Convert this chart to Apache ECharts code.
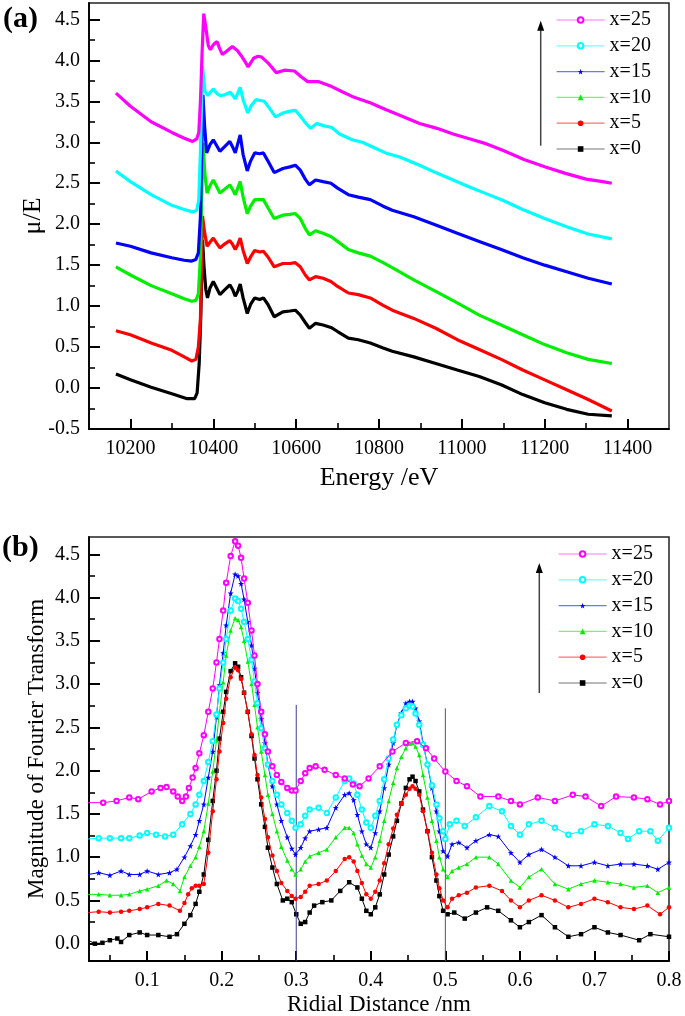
<!DOCTYPE html>
<html><head><meta charset="utf-8">
<script src="https://cdn.jsdelivr.net/npm/echarts@6/dist/echarts.min.js"></script>
<style>html,body{margin:0;padding:0;background:#fff}#c{width:685px;height:1016px}</style>
</head><body><div id="c"></div>
<script>
// ---------- names / ticks ----------
const seriesNames = ['x=0','x=5','x=10','x=15','x=20','x=25'];
const legendOrder = ['x=25','x=20','x=15','x=10','x=5','x=0'];
const seriesColors = ['#000000','#ff0000','#00ee00','#0000ff','#00ffff','#ff00ff'];
const starPath = 'path://M0,-10L2.35,-3.24L9.51,-3.09L3.8,1.24L5.88,8.09L0,4L-5.88,8.09L-3.8,1.24L-9.51,-3.09L-2.35,-3.24Z';
const seriesSymbols = ['rect','circle','triangle',starPath,'emptyCircle','emptyCircle'];

const xTicksA = [10200,10400,10600,10800,11000,11200,11400];
const xMinorA = [10300,10500,10700,10900,11100,11300];
const yTicksA = [-0.5,0,0.5,1,1.5,2,2.5,3,3.5,4,4.5];
const yMinorA = [-0.25,0.25,0.75,1.25,1.75,2.25,2.75,3.25,3.75,4.25];
const xTicksB = [0.1,0.2,0.3,0.4,0.5,0.6,0.7,0.8];
const xMinorB = [0.05,0.15,0.25,0.35,0.45,0.55,0.65,0.75];
const yTicksB = [0,0.5,1,1.5,2,2.5,3,3.5,4,4.5];
const yMinorB = [0.25,0.75,1.25,1.75,2.25,2.75,3.25,3.75,4.25];

// ---------- panel (a): Energy (eV), mu/E ----------
const a_x0 = [[10165,0.17],[10200,0.10],[10250,0.01],[10300,-0.07],[10337,-0.13],[10355,-0.13],[10361,-0.06],[10366,0.30],[10370,0.90],[10374,1.81],[10378,1.45],[10382,1.20],[10386,1.10],[10392,1.22],[10400,1.30],[10408,1.22],[10416,1.14],[10428,1.20],[10440,1.26],[10447,1.20],[10453,1.12],[10459,1.18],[10465,1.27],[10472,1.10],[10482,0.91],[10490,1.02],[10500,1.10],[10512,1.08],[10521,1.10],[10532,1.02],[10547,0.87],[10568,0.93],[10585,0.94],[10598,0.95],[10610,0.89],[10622,0.80],[10632,0.73],[10647,0.79],[10665,0.77],[10684,0.74],[10700,0.69],[10726,0.61],[10750,0.59],[10779,0.55],[10810,0.49],[10832,0.45],[10884,0.38],[10937,0.30],[10989,0.22],[11042,0.14],[11095,0.04],[11147,-0.08],[11200,-0.18],[11253,-0.26],[11305,-0.32],[11362,-0.34]];
const a_x5 = [[10165,0.70],[10200,0.65],[10250,0.55],[10300,0.46],[10330,0.38],[10348,0.33],[10358,0.35],[10364,0.50],[10369,0.85],[10374,2.10],[10379,1.90],[10385,1.73],[10392,1.78],[10400,1.83],[10408,1.77],[10416,1.71],[10428,1.76],[10440,1.80],[10447,1.75],[10453,1.69],[10459,1.75],[10465,1.83],[10472,1.68],[10482,1.52],[10490,1.60],[10500,1.68],[10512,1.66],[10521,1.67],[10532,1.60],[10547,1.48],[10568,1.52],[10585,1.52],[10598,1.53],[10610,1.48],[10622,1.38],[10632,1.32],[10647,1.36],[10665,1.34],[10684,1.30],[10700,1.24],[10726,1.16],[10750,1.14],[10779,1.10],[10810,1.01],[10832,0.95],[10884,0.85],[10937,0.73],[10989,0.59],[11042,0.47],[11095,0.35],[11147,0.22],[11200,0.10],[11253,-0.02],[11305,-0.14],[11362,-0.28]];
const a_x10 = [[10165,1.48],[10200,1.38],[10250,1.25],[10300,1.15],[10330,1.09],[10348,1.06],[10358,1.07],[10364,1.15],[10369,1.60],[10375,2.99],[10380,2.60],[10385,2.38],[10392,2.47],[10400,2.54],[10408,2.46],[10416,2.38],[10428,2.43],[10440,2.48],[10447,2.42],[10453,2.36],[10459,2.44],[10465,2.52],[10472,2.33],[10482,2.13],[10490,2.22],[10500,2.30],[10512,2.30],[10521,2.30],[10532,2.20],[10547,2.07],[10568,2.11],[10585,2.12],[10598,2.13],[10610,2.07],[10622,1.95],[10632,1.87],[10647,1.92],[10665,1.89],[10684,1.85],[10700,1.79],[10726,1.69],[10750,1.65],[10779,1.61],[10810,1.53],[10832,1.47],[10884,1.32],[10937,1.18],[10989,1.04],[11042,0.89],[11095,0.77],[11147,0.65],[11200,0.53],[11253,0.43],[11305,0.35],[11362,0.30]];
const a_x15 = [[10165,1.77],[10200,1.73],[10250,1.65],[10300,1.59],[10330,1.56],[10348,1.55],[10358,1.57],[10364,1.65],[10369,2.10],[10375,3.58],[10379,3.20],[10384,2.87],[10392,2.97],[10400,3.03],[10408,2.96],[10416,2.89],[10428,2.95],[10440,3.01],[10447,2.94],[10453,2.87],[10459,2.98],[10465,3.09],[10472,2.85],[10482,2.65],[10490,2.77],[10500,2.87],[10512,2.86],[10521,2.87],[10532,2.77],[10547,2.63],[10568,2.68],[10585,2.70],[10598,2.72],[10610,2.66],[10622,2.55],[10632,2.48],[10647,2.54],[10665,2.52],[10684,2.50],[10700,2.44],[10726,2.36],[10750,2.33],[10779,2.30],[10810,2.22],[10832,2.17],[10884,2.09],[10937,1.99],[10989,1.89],[11042,1.79],[11095,1.69],[11147,1.59],[11200,1.50],[11253,1.42],[11305,1.34],[11362,1.27]];
const a_x20 = [[10165,2.65],[10200,2.52],[10250,2.36],[10300,2.23],[10330,2.18],[10350,2.15],[10360,2.17],[10365,2.30],[10369,2.90],[10374,3.93],[10380,3.62],[10387,3.57],[10393,3.61],[10400,3.65],[10408,3.60],[10416,3.57],[10428,3.58],[10441,3.61],[10447,3.57],[10453,3.53],[10459,3.60],[10465,3.67],[10472,3.52],[10483,3.36],[10492,3.45],[10503,3.52],[10514,3.51],[10523,3.50],[10535,3.42],[10550,3.31],[10570,3.36],[10585,3.38],[10598,3.39],[10610,3.32],[10622,3.24],[10635,3.17],[10650,3.23],[10668,3.20],[10686,3.18],[10705,3.10],[10735,3.03],[10760,3.00],[10790,2.93],[10816,2.87],[10850,2.82],[10898,2.72],[10937,2.63],[10979,2.54],[11020,2.45],[11060,2.37],[11100,2.29],[11147,2.18],[11200,2.07],[11253,1.97],[11305,1.88],[11362,1.82]];
const a_x25 = [[10165,3.60],[10200,3.44],[10250,3.25],[10300,3.12],[10330,3.05],[10350,3.01],[10360,3.04],[10365,3.12],[10369,3.50],[10373,4.10],[10377,4.57],[10382,4.40],[10388,4.18],[10393,4.13],[10400,4.19],[10409,4.23],[10415,4.15],[10422,4.07],[10432,4.11],[10446,4.17],[10458,4.12],[10467,4.06],[10476,3.99],[10484,3.92],[10498,4.03],[10508,4.05],[10517,4.04],[10532,3.97],[10552,3.85],[10572,3.88],[10596,3.87],[10612,3.80],[10628,3.74],[10655,3.74],[10686,3.68],[10710,3.62],[10735,3.56],[10780,3.48],[10816,3.40],[10850,3.33],[10898,3.23],[10940,3.17],[10979,3.10],[11020,3.04],[11060,2.98],[11100,2.90],[11150,2.79],[11200,2.70],[11250,2.62],[11300,2.55],[11340,2.52],[11362,2.50]];

// ---------- panel (b): radial distance (nm), |FT| ----------
const b_x0 = [[0.021,0.04],[0.03,0.00],[0.04,0.01],[0.05,0.04],[0.06,0.06],[0.065,0.02],[0.076,0.10],[0.09,0.13],[0.1,0.10],[0.115,0.10],[0.13,0.08],[0.14,0.11],[0.15,0.23],[0.158,0.33],[0.165,0.46],[0.17,0.60],[0.176,0.80],[0.182,1.20],[0.188,1.65],[0.193,2.00],[0.197,2.37],[0.202,2.68],[0.206,2.91],[0.212,3.15],[0.218,3.24],[0.222,3.20],[0.226,3.08],[0.23,2.90],[0.235,2.68],[0.24,2.40],[0.244,2.14],[0.248,1.90],[0.253,1.61],[0.258,1.35],[0.262,1.11],[0.268,0.88],[0.274,0.69],[0.282,0.50],[0.288,0.52],[0.294,0.48],[0.3,0.34],[0.306,0.23],[0.312,0.25],[0.318,0.36],[0.324,0.44],[0.335,0.48],[0.347,0.50],[0.359,0.61],[0.371,0.71],[0.382,0.65],[0.388,0.52],[0.394,0.38],[0.4,0.34],[0.406,0.42],[0.412,0.57],[0.418,0.80],[0.424,1.03],[0.43,1.24],[0.435,1.42],[0.441,1.62],[0.447,1.80],[0.452,1.90],[0.456,1.93],[0.46,1.88],[0.465,1.76],[0.47,1.55],[0.476,1.30],[0.482,1.00],[0.488,0.73],[0.492,0.55],[0.497,0.38],[0.503,0.34],[0.512,0.36],[0.526,0.29],[0.541,0.36],[0.556,0.42],[0.571,0.38],[0.588,0.27],[0.6,0.19],[0.612,0.25],[0.629,0.33],[0.647,0.19],[0.665,0.08],[0.682,0.11],[0.7,0.19],[0.718,0.13],[0.735,0.10],[0.76,0.04],[0.775,0.11],[0.8,0.08]];
const b_x5 = [[0.021,0.36],[0.035,0.37],[0.05,0.36],[0.065,0.37],[0.076,0.38],[0.09,0.40],[0.1,0.42],[0.115,0.46],[0.13,0.44],[0.144,0.38],[0.15,0.47],[0.155,0.57],[0.16,0.64],[0.165,0.67],[0.17,0.67],[0.176,0.69],[0.182,1.05],[0.188,1.53],[0.193,1.90],[0.197,2.22],[0.202,2.55],[0.206,2.83],[0.212,3.08],[0.218,3.19],[0.222,3.16],[0.226,3.06],[0.23,2.90],[0.235,2.68],[0.24,2.42],[0.244,2.18],[0.248,1.95],[0.253,1.69],[0.258,1.44],[0.262,1.23],[0.268,1.02],[0.274,0.84],[0.28,0.70],[0.288,0.61],[0.294,0.55],[0.299,0.52],[0.306,0.54],[0.312,0.60],[0.318,0.67],[0.33,0.69],[0.341,0.73],[0.353,0.84],[0.365,0.98],[0.371,1.00],[0.377,0.95],[0.382,0.84],[0.388,0.70],[0.394,0.57],[0.4,0.52],[0.406,0.60],[0.412,0.73],[0.418,0.93],[0.424,1.15],[0.43,1.33],[0.435,1.49],[0.441,1.62],[0.447,1.72],[0.452,1.79],[0.456,1.82],[0.46,1.79],[0.465,1.72],[0.47,1.53],[0.476,1.30],[0.482,1.05],[0.488,0.80],[0.492,0.64],[0.497,0.50],[0.503,0.42],[0.509,0.52],[0.518,0.56],[0.529,0.59],[0.541,0.65],[0.559,0.67],[0.576,0.61],[0.588,0.50],[0.6,0.42],[0.612,0.50],[0.629,0.56],[0.647,0.50],[0.665,0.42],[0.682,0.46],[0.7,0.52],[0.718,0.48],[0.735,0.42],[0.753,0.40],[0.771,0.44],[0.788,0.34],[0.8,0.42]];
const b_x10 = [[0.021,0.57],[0.035,0.57],[0.05,0.56],[0.065,0.56],[0.076,0.57],[0.09,0.61],[0.1,0.63],[0.115,0.67],[0.126,0.73],[0.135,0.69],[0.144,0.61],[0.15,0.77],[0.158,0.90],[0.165,1.00],[0.17,1.12],[0.176,1.30],[0.182,1.62],[0.188,1.99],[0.193,2.35],[0.197,2.68],[0.202,3.02],[0.206,3.33],[0.212,3.62],[0.218,3.76],[0.222,3.74],[0.226,3.66],[0.23,3.50],[0.235,3.26],[0.24,3.00],[0.244,2.76],[0.248,2.50],[0.253,2.22],[0.258,1.95],[0.262,1.72],[0.268,1.50],[0.274,1.30],[0.28,1.12],[0.288,0.96],[0.294,0.86],[0.299,0.80],[0.306,0.86],[0.312,0.95],[0.318,1.01],[0.33,1.05],[0.341,1.09],[0.353,1.23],[0.365,1.34],[0.371,1.34],[0.377,1.28],[0.382,1.15],[0.388,1.02],[0.394,0.92],[0.4,0.88],[0.406,1.00],[0.412,1.19],[0.418,1.42],[0.424,1.65],[0.43,1.86],[0.435,2.03],[0.441,2.16],[0.447,2.26],[0.452,2.31],[0.456,2.32],[0.46,2.28],[0.465,2.18],[0.47,1.95],[0.476,1.69],[0.482,1.42],[0.488,1.19],[0.492,1.00],[0.497,0.86],[0.503,0.77],[0.509,0.84],[0.518,0.88],[0.529,0.92],[0.541,1.00],[0.559,1.00],[0.571,0.92],[0.588,0.73],[0.6,0.65],[0.612,0.77],[0.629,0.86],[0.647,0.69],[0.665,0.63],[0.682,0.69],[0.7,0.73],[0.718,0.71],[0.735,0.69],[0.753,0.65],[0.771,0.67],[0.785,0.59],[0.8,0.65]];
const b_x15 = [[0.021,0.80],[0.035,0.82],[0.05,0.79],[0.065,0.84],[0.076,0.80],[0.09,0.80],[0.1,0.84],[0.115,0.80],[0.13,0.82],[0.14,0.86],[0.15,1.00],[0.158,1.13],[0.165,1.26],[0.17,1.42],[0.176,1.61],[0.182,1.92],[0.188,2.22],[0.193,2.62],[0.197,2.99],[0.202,3.36],[0.206,3.68],[0.212,4.05],[0.218,4.27],[0.222,4.25],[0.226,4.16],[0.23,3.98],[0.235,3.72],[0.24,3.45],[0.244,3.18],[0.248,2.90],[0.253,2.60],[0.258,2.32],[0.262,2.07],[0.268,1.82],[0.274,1.61],[0.28,1.42],[0.288,1.23],[0.294,1.10],[0.299,1.03],[0.306,1.11],[0.312,1.22],[0.318,1.30],[0.33,1.32],[0.341,1.34],[0.353,1.57],[0.365,1.72],[0.371,1.74],[0.377,1.66],[0.382,1.49],[0.388,1.30],[0.394,1.15],[0.4,1.11],[0.406,1.28],[0.412,1.53],[0.418,1.80],[0.424,2.07],[0.43,2.32],[0.435,2.53],[0.441,2.67],[0.447,2.78],[0.452,2.80],[0.456,2.80],[0.46,2.72],[0.465,2.57],[0.47,2.32],[0.476,2.07],[0.482,1.80],[0.488,1.53],[0.492,1.30],[0.497,1.07],[0.503,1.01],[0.509,1.15],[0.518,1.17],[0.529,1.11],[0.541,1.19],[0.559,1.26],[0.571,1.24],[0.588,1.05],[0.6,0.94],[0.612,1.03],[0.629,1.09],[0.647,1.00],[0.665,0.90],[0.682,0.90],[0.7,0.94],[0.718,0.90],[0.735,0.92],[0.753,0.92],[0.771,0.90],[0.785,0.86],[0.8,0.94]];
const b_x20 = [[0.021,1.21],[0.035,1.22],[0.05,1.22],[0.065,1.22],[0.076,1.22],[0.09,1.25],[0.1,1.28],[0.112,1.26],[0.124,1.24],[0.135,1.26],[0.147,1.38],[0.158,1.50],[0.165,1.61],[0.17,1.72],[0.176,1.88],[0.182,2.10],[0.188,2.34],[0.193,2.65],[0.197,2.95],[0.202,3.25],[0.206,3.52],[0.212,3.85],[0.218,3.99],[0.222,3.96],[0.226,3.87],[0.23,3.72],[0.235,3.52],[0.24,3.28],[0.244,3.03],[0.248,2.78],[0.253,2.49],[0.258,2.26],[0.262,2.07],[0.268,1.88],[0.274,1.72],[0.28,1.61],[0.288,1.51],[0.294,1.42],[0.299,1.34],[0.306,1.38],[0.312,1.48],[0.318,1.55],[0.33,1.57],[0.341,1.51],[0.353,1.69],[0.365,1.88],[0.371,1.91],[0.377,1.85],[0.382,1.72],[0.388,1.55],[0.394,1.40],[0.4,1.34],[0.406,1.48],[0.412,1.65],[0.418,1.90],[0.424,2.14],[0.43,2.36],[0.435,2.53],[0.441,2.64],[0.447,2.72],[0.452,2.75],[0.456,2.74],[0.46,2.66],[0.465,2.53],[0.47,2.30],[0.476,2.07],[0.482,1.83],[0.488,1.61],[0.492,1.45],[0.497,1.30],[0.5,1.21],[0.506,1.38],[0.515,1.42],[0.526,1.36],[0.541,1.46],[0.559,1.59],[0.576,1.53],[0.588,1.36],[0.6,1.26],[0.612,1.38],[0.629,1.42],[0.647,1.34],[0.665,1.26],[0.682,1.30],[0.7,1.38],[0.718,1.36],[0.735,1.28],[0.745,1.21],[0.76,1.30],[0.775,1.30],[0.785,1.19],[0.8,1.34]];
const b_x25 = [[0.021,1.63],[0.041,1.63],[0.059,1.65],[0.076,1.69],[0.088,1.67],[0.106,1.76],[0.118,1.80],[0.126,1.81],[0.135,1.76],[0.141,1.70],[0.147,1.65],[0.152,1.70],[0.156,1.80],[0.161,1.92],[0.165,2.03],[0.17,2.20],[0.176,2.41],[0.182,2.68],[0.188,2.95],[0.193,3.25],[0.197,3.52],[0.202,3.85],[0.206,4.17],[0.212,4.48],[0.218,4.65],[0.222,4.60],[0.226,4.46],[0.23,4.22],[0.235,3.94],[0.24,3.62],[0.244,3.33],[0.248,3.00],[0.253,2.68],[0.258,2.42],[0.262,2.22],[0.268,2.05],[0.274,1.95],[0.28,1.87],[0.288,1.80],[0.294,1.77],[0.299,1.77],[0.306,1.88],[0.312,1.97],[0.318,2.03],[0.326,2.05],[0.338,2.01],[0.353,1.95],[0.365,1.91],[0.376,1.84],[0.385,1.82],[0.397,1.91],[0.412,2.05],[0.429,2.22],[0.447,2.32],[0.462,2.34],[0.474,2.26],[0.485,2.14],[0.5,1.99],[0.515,1.88],[0.529,1.82],[0.547,1.70],[0.571,1.70],[0.588,1.65],[0.6,1.61],[0.624,1.69],[0.647,1.65],[0.671,1.72],[0.688,1.70],[0.709,1.59],[0.729,1.70],[0.753,1.69],[0.771,1.67],[0.788,1.61],[0.8,1.65]];
// reference lines
const vline03 = [[0.3,-0.2],[0.3,2.76]];
const vline05 = [[0.5,-0.2],[0.5,2.72]];

const aData = [a_x0,a_x5,a_x10,a_x15,a_x20,a_x25];
const bData = [b_x0,b_x5,b_x10,b_x15,b_x20,b_x25];

const FONT = 'Liberation Serif';
const fmt1 = v => (Math.round(v*10)/10).toFixed(1);
const AX = {a:{xMin:10100, xMax:11500, yMin:-0.5, yMax:4.7}, b:{xMin:0.022, xMax:0.8, yMin:-0.2, yMax:4.7}};

function mainX(gi, r, ticks, fmt){
  const ax = {gridIndex:gi, type:'value', min:r.xMin, max:r.xMax, position:'bottom',
    axisLine:{onZero:false, lineStyle:{color:'#000', width:1.8}},
    axisTick:{show:true, inside:true, length:10, customValues:ticks, lineStyle:{color:'#000', width:2}},
    axisLabel:{customValues:ticks, fontFamily:FONT, fontSize:20, color:'#000', margin:10},
    splitLine:{show:false}};
  if (fmt) ax.axisLabel.formatter = fmt;
  return ax;
}
function minorX(gi, r, ticks){
  return {gridIndex:gi, type:'value', min:r.xMin, max:r.xMax, position:'bottom',
    axisLine:{show:false, onZero:false}, axisLabel:{show:false}, splitLine:{show:false},
    axisTick:{show:true, inside:true, length:6, customValues:ticks, lineStyle:{color:'#000', width:1.6}}};
}
function mainY(gi, r, ticks){
  return {gridIndex:gi, type:'value', min:r.yMin, max:r.yMax, position:'left',
    axisLine:{show:true, onZero:false, lineStyle:{color:'#000', width:1.8}},
    axisTick:{show:true, inside:true, length:11, customValues:ticks, lineStyle:{color:'#000', width:2}},
    axisLabel:{customValues:ticks, formatter:fmt1, fontFamily:FONT, fontSize:20, color:'#000', margin:9},
    splitLine:{show:false}};
}
function minorY(gi, r, ticks){
  return {gridIndex:gi, type:'value', min:r.yMin, max:r.yMax, position:'left',
    axisLine:{show:false, onZero:false}, axisLabel:{show:false}, splitLine:{show:false},
    axisTick:{show:true, inside:true, length:6, customValues:ticks, lineStyle:{color:'#000', width:1.6}}};
}

const series = [];
seriesNames.forEach((n,i)=>{
  series.push({name:n, type:'line', xAxisIndex:0, yAxisIndex:0, data:aData[i],
    showSymbol:false, symbol:seriesSymbols[i], color:seriesColors[i],
    lineStyle:{width:3.2, color:seriesColors[i]}, z:2+i});
});
seriesNames.forEach((n,i)=>{
  series.push({name:n, type:'line', xAxisIndex:2, yAxisIndex:2, data:bData[i],
    symbol:seriesSymbols[i], symbolSize: i===3?6:4.5, color:seriesColors[i],
    itemStyle:{color:seriesColors[i]},
    lineStyle:{width:1, color:seriesColors[i]}, z:2+i});
});
series.push({type:'line', xAxisIndex:2, yAxisIndex:2, data:vline03, symbol:'none',
  lineStyle:{width:1, color:'#3b3b8f'}, silent:true});
series.push({type:'line', xAxisIndex:2, yAxisIndex:2, data:vline05, symbol:'none',
  lineStyle:{width:1, color:'#555555'}, silent:true});

function legendAt(left, top){
  return {orient:'vertical', left:left, top:top, data:legendOrder,
    itemWidth:48, itemHeight:7, itemGap:5.8, selectedMode:false,
    textStyle:{fontFamily:FONT, fontSize:20, color:'#000', lineHeight:20},
    lineStyle:{width:1.2, opacity:0.55}};
}
function arrow(x, yTop, yBot){
  return [
    {type:'line', shape:{x1:x, y1:yBot, x2:x, y2:yTop+8}, style:{stroke:'#444', lineWidth:1.5}, z:50},
    {type:'polygon', shape:{points:[[x,yTop],[x-3.5,yTop+10],[x+3.5,yTop+10]]}, style:{fill:'#000'}, z:50}
  ];
}
function title(text, x, y, size, rot){
  return {type:'text', x:x, y:y, rotation:rot||0, z:50,
    style:{text:text, font:size+'px "Liberation Serif"', fill:'#000', align:'center', verticalAlign:'middle'}};
}

const option = {
  animation:false,
  grid:[
    {left:89, top:3, width:580, height:426, show:true, borderColor:'#222', borderWidth:1.5},
    {left:89, top:537, width:580, height:424, show:true, borderColor:'#222', borderWidth:1.5}
  ],
  xAxis:[ mainX(0, AX.a, xTicksA, v=>String(v)), minorX(0, AX.a, xMinorA),
          mainX(1, AX.b, xTicksB, null), minorX(1, AX.b, xMinorB) ],
  yAxis:[ mainY(0, AX.a, yTicksA), minorY(0, AX.a, yMinorA),
          mainY(1, AX.b, yTicksB), minorY(1, AX.b, yMinorB) ],
  legend:[legendAt(551, 5), legendAt(553, 539)],
  series:series,
  graphic:[
    {type:'text', left:3, top:4, style:{text:'(a)', font:'bold 30px "Liberation Serif"', fill:'#000'}},
    {type:'text', left:2, top:533, style:{text:'(b)', font:'bold 30px "Liberation Serif"', fill:'#000'}},
    title('Energy /eV', 379, 478, 26),
    title('μ/E', 33, 216, 26, Math.PI/2),
    title('Ridial Distance /nm', 379, 1005, 23),
    title('Magnitude of Fourier Transform', 37, 749, 23, Math.PI/2),
    ...arrow(540.7, 20.7, 145.7),
    ...arrow(539.3, 563, 693)
  ]
};
const chart = echarts.init(document.getElementById('c'));
chart.setOption(option);
</script></body></html>
